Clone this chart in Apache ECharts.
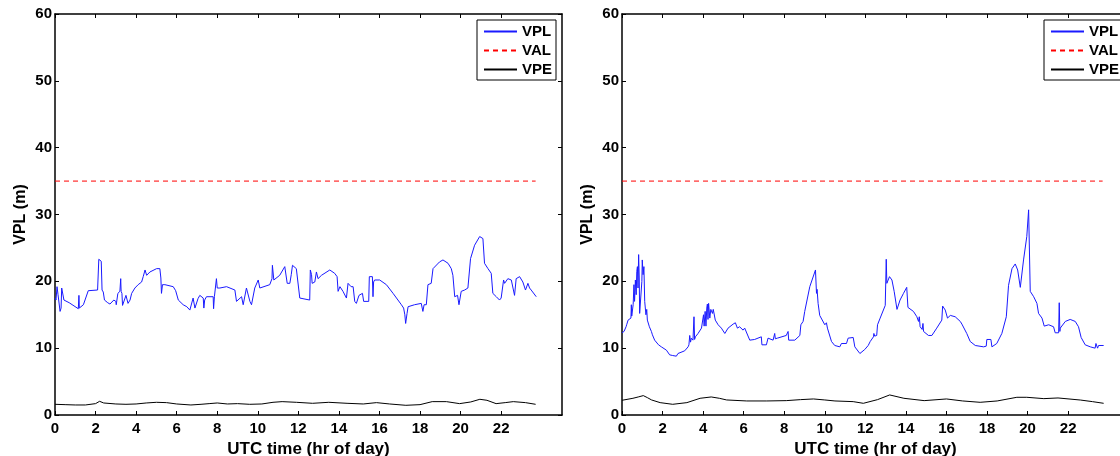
<!DOCTYPE html>
<html>
<head>
<meta charset="utf-8">
<script src="https://cdn.jsdelivr.net/npm/echarts@6/dist/echarts.min.js"></script>
<style>
html,body{margin:0;padding:0;background:#fff;}
#chart{width:1120px;height:456px;}
</style>
</head>
<body>
<div id="chart"></div>
<script>
// x tick labels (hours) and y ticks
var xTicks = [0, 2, 4, 6, 8, 10, 12, 14, 16, 18, 20, 22];
var valLevel = 35;
var valSpan = [0, 23.7];

// Left panel: VPL [hour, metres]
var vplLeft = [[0.0,17.5],[0.05,17.2],[0.1,19.2],[0.15,18.0],[0.25,15.5],[0.3,16.0],[0.33,19.0],[0.38,18.8],[0.44,17.2],[0.7,16.8],[1.15,15.9],[1.18,17.9],[1.2,16.0],[1.4,16.5],[1.64,18.6],[2.1,18.7],[2.13,18.5],[2.16,23.3],[2.28,23.0],[2.32,18.7],[2.38,18.4],[2.44,17.2],[2.6,16.8],[2.71,16.6],[2.9,17.2],[3.0,17.0],[3.02,16.5],[3.1,18.2],[3.2,18.5],[3.24,20.4],[3.26,18.5],[3.3,18.2],[3.33,16.4],[3.42,16.5],[3.5,17.9],[3.6,16.7],[3.7,17.2],[3.78,18.2],[3.94,19.0],[4.1,19.5],[4.27,19.9],[4.35,20.7],[4.42,20.7],[4.44,21.7],[4.52,20.9],[4.68,21.4],[5.01,21.9],[5.1,21.7],[5.17,21.9],[5.22,20.5],[5.25,18.2],[5.3,19.5],[5.42,19.5],[5.83,19.2],[5.95,18.6],[6.0,18.5],[6.08,17.2],[6.32,16.5],[6.4,16.7],[6.5,16.2],[6.65,15.7],[6.7,15.5],[6.81,17.5],[6.9,16.0],[7.05,17.4],[7.14,17.9],[7.31,17.5],[7.34,16.0],[7.38,17.2],[7.47,17.7],[7.8,17.7],[7.82,15.9],[7.86,17.7],[7.96,20.4],[8.0,19.0],[8.13,19.0],[8.46,19.2],[8.87,18.7],[8.95,17.0],[9.2,17.7],[9.28,16.5],[9.44,19.0],[9.61,17.0],[9.69,16.5],[9.85,19.0],[10.02,20.2],[10.1,19.0],[10.59,19.5],[10.7,20.4],[10.72,22.4],[10.79,20.2],[11.08,20.9],[11.33,22.2],[11.45,19.7],[11.58,19.7],[11.65,21.0],[11.71,22.4],[11.9,21.9],[11.99,21.7],[12.07,17.5],[12.12,17.5],[12.56,17.2],[12.59,21.7],[12.65,21.0],[12.68,19.7],[12.81,19.9],[12.89,21.4],[12.97,20.4],[13.14,20.9],[13.55,21.7],[13.79,21.2],[13.91,20.7],[13.96,18.5],[14.05,19.2],[14.12,19.2],[14.2,18.5],[14.37,17.5],[14.45,19.7],[14.53,19.7],[14.6,19.2],[14.7,19.2],[14.78,17.0],[14.86,16.7],[14.99,17.9],[15.16,18.2],[15.22,17.0],[15.47,17.0],[15.5,20.7],[15.65,20.7],[15.68,17.7],[15.71,19.9],[15.76,20.2],[16.01,20.2],[16.34,19.5],[16.67,18.2],[17.08,16.5],[17.19,16.0],[17.25,15.0],[17.29,13.7],[17.36,15.2],[17.41,16.2],[17.73,16.5],[18.06,16.7],[18.14,15.5],[18.2,16.5],[18.31,16.5],[18.39,19.5],[18.55,19.7],[18.64,21.9],[18.96,22.9],[19.13,23.2],[19.38,22.7],[19.54,21.9],[19.62,20.9],[19.71,17.7],[19.79,17.5],[19.85,17.9],[19.92,16.5],[20.03,18.5],[20.2,18.7],[20.36,19.0],[20.41,19.0],[20.49,23.4],[20.69,25.4],[20.94,26.7],[21.1,26.4],[21.18,22.7],[21.35,21.9],[21.51,21.2],[21.59,18.2],[21.76,17.7],[21.92,17.2],[22.0,17.5],[22.12,20.2],[22.17,19.7],[22.33,20.4],[22.5,20.2],[22.66,17.9],[22.74,20.4],[22.91,20.7],[23.07,19.9],[23.2,18.7],[23.32,19.7],[23.4,19.0],[23.48,18.7],[23.53,18.5],[23.73,17.7]];

// Left panel: VPE
var vpeLeft = [[0,1.6],[0.5,1.55],[1,1.5],[1.5,1.5],[2,1.7],[2.2,2.05],[2.4,1.8],[3,1.65],[3.5,1.6],[4,1.65],[4.5,1.8],[5,1.9],[5.5,1.85],[6,1.65],[6.7,1.5],[7.2,1.6],[7.6,1.7],[8,1.8],[8.5,1.65],[9,1.7],[9.6,1.6],[10.2,1.65],[10.75,1.9],[11.2,2.0],[11.9,1.9],[12.7,1.75],[13.5,1.9],[14.4,1.75],[15.2,1.65],[15.85,1.85],[16.5,1.65],[17.3,1.45],[18.0,1.55],[18.6,2.0],[19.3,2.0],[19.95,1.7],[20.5,1.95],[20.95,2.35],[21.3,2.2],[21.75,1.7],[22.2,1.85],[22.6,2.0],[23.2,1.85],[23.7,1.6]];

// Right panel: VPL
var vplRight = [[0.0,12.3],[0.1,12.5],[0.2,13.2],[0.23,13.5],[0.3,14.2],[0.38,14.0],[0.44,14.5],[0.46,16.5],[0.48,14.8],[0.55,16.5],[0.59,19.5],[0.62,17.0],[0.66,20.2],[0.7,18.0],[0.73,21.5],[0.76,22.2],[0.79,19.0],[0.82,24.0],[0.85,20.5],[0.87,15.2],[0.95,15.2],[0.98,20.0],[1.0,23.2],[1.04,21.0],[1.08,22.2],[1.12,17.0],[1.15,17.2],[1.18,15.0],[1.22,15.8],[1.25,14.2],[1.28,14.2],[1.35,13.2],[1.45,12.5],[1.5,12.0],[1.61,11.2],[1.7,11.0],[1.8,10.5],[1.94,10.2],[2.19,9.7],[2.35,9.0],[2.5,8.9],[2.68,8.8],[2.76,9.2],[3.09,9.6],[3.26,10.2],[3.3,10.5],[3.34,11.9],[3.38,10.9],[3.42,11.5],[3.5,11.2],[3.55,14.7],[3.58,11.3],[3.62,11.7],[3.75,12.2],[3.92,13.0],[3.98,13.0],[4.02,15.0],[4.05,13.3],[4.1,15.5],[4.14,13.3],[4.18,16.0],[4.21,16.6],[4.24,14.3],[4.27,16.7],[4.33,14.5],[4.38,15.8],[4.41,15.7],[4.46,15.2],[4.5,15.8],[4.54,15.7],[4.6,14.2],[4.74,13.5],[4.9,13.0],[5.07,12.2],[5.23,13.0],[5.48,13.6],[5.59,13.8],[5.65,13.6],[5.69,13.0],[5.75,13.2],[5.8,13.2],[5.97,12.7],[6.05,13.0],[6.3,11.2],[6.54,11.3],[6.87,11.7],[6.9,10.5],[7.12,10.5],[7.2,11.5],[7.45,11.2],[7.5,11.2],[7.53,12.2],[7.56,11.4],[7.66,11.5],[8.1,11.9],[8.19,12.5],[8.22,11.2],[8.52,11.2],[8.77,11.9],[8.82,13.5],[8.93,14.0],[9.01,15.5],[9.26,19.2],[9.54,21.7],[9.59,18.2],[9.62,18.8],[9.67,16.7],[9.75,14.9],[10.0,13.5],[10.05,13.3],[10.08,13.8],[10.13,13.0],[10.33,11.0],[10.49,10.4],[10.74,10.2],[10.82,10.7],[11.07,10.7],[11.15,11.5],[11.4,11.6],[11.48,10.2],[11.73,9.2],[11.97,9.8],[12.14,10.4],[12.24,11.0],[12.4,11.7],[12.42,12.2],[12.46,11.8],[12.56,11.9],[12.6,13.5],[12.73,14.5],[12.98,16.4],[13.01,16.5],[13.03,23.3],[13.06,19.7],[13.19,20.7],[13.31,20.2],[13.42,18.5],[13.56,15.8],[13.71,17.2],[13.88,18.2],[14.04,19.1],[14.1,16.1],[14.37,15.5],[14.54,14.7],[14.62,14.0],[14.66,14.7],[14.7,13.2],[14.8,12.8],[14.84,13.7],[14.87,12.5],[15.11,11.9],[15.28,11.9],[15.52,13.0],[15.77,14.2],[15.81,16.3],[15.94,15.7],[16.05,14.5],[16.19,14.9],[16.43,14.7],[16.68,14.0],[16.76,13.6],[17.0,12.2],[17.17,11.0],[17.42,10.4],[17.83,10.2],[17.96,10.3],[17.99,11.3],[18.19,11.3],[18.24,10.2],[18.48,10.7],[18.73,12.2],[18.95,14.7],[19.06,19.4],[19.23,21.9],[19.39,22.6],[19.51,21.7],[19.64,19.1],[19.8,23.2],[19.96,26.7],[20.05,30.7],[20.08,30.7],[20.13,18.5],[20.3,17.7],[20.46,16.7],[20.54,15.2],[20.71,14.5],[20.82,13.3],[21.04,13.5],[21.28,13.2],[21.36,12.3],[21.53,12.3],[21.56,16.8],[21.59,12.5],[21.61,13.0],[21.86,14.0],[22.1,14.3],[22.35,14.0],[22.51,13.2],[22.64,11.6],[22.84,10.5],[23.09,10.2],[23.33,10.0],[23.37,10.7],[23.45,10.0],[23.5,10.4],[23.75,10.4]];

// Right panel: VPE
var vpeRight = [[0,2.2],[0.54,2.5],[0.8,2.7],[1.05,2.9],[1.25,2.6],[1.46,2.25],[1.88,1.85],[2.5,1.6],[3.2,1.85],[3.85,2.5],[4.4,2.7],[4.8,2.5],[5.16,2.25],[6.15,2.1],[7.14,2.1],[8.1,2.15],[8.8,2.3],[9.44,2.4],[10.0,2.25],[10.5,2.1],[11.4,2.0],[11.9,1.75],[12.6,2.3],[13.2,3.0],[13.9,2.5],[14.9,2.15],[16.0,2.4],[16.8,2.1],[17.66,1.9],[18.5,2.1],[19.47,2.65],[19.96,2.65],[20.8,2.45],[21.5,2.55],[22.6,2.24],[23.2,2.0],[23.75,1.75]];

var FONT = "'Liberation Sans', Arial, Helvetica, sans-serif";
var valLine = [[valSpan[0], valLevel], [valSpan[1], valLevel]];

function xBottom(g) {
  return {
    type: 'value', gridIndex: g, min: 0, max: 25, position: 'bottom',
    name: 'UTC time (hr of day)', nameLocation: 'middle', nameGap: 19,
    nameTextStyle: {color: '#000', fontWeight: 'bold', fontSize: 17, fontFamily: FONT},
    axisLine: {onZero: false, lineStyle: {color: '#000', width: 1.5}},
    axisTick: {inside: true, length: 4, customValues: xTicks, lineStyle: {color: '#000', width: 1}},
    axisLabel: {customValues: xTicks, color: '#000', fontWeight: 'bold', fontSize: 15, margin: 6, fontFamily: FONT},
    splitLine: {show: false}
  };
}
function xTop(g) {
  return {
    type: 'value', gridIndex: g, min: 0, max: 25, position: 'top',
    axisLine: {onZero: false, lineStyle: {color: '#000', width: 1.5}},
    axisTick: {inside: true, length: 4, customValues: xTicks, lineStyle: {color: '#000', width: 1}},
    axisLabel: {show: false},
    splitLine: {show: false}
  };
}
function yLeft(g) {
  return {
    type: 'value', gridIndex: g, min: 0, max: 60, interval: 10, position: 'left',
    name: 'VPL (m)', nameLocation: 'middle', nameGap: 26,
    nameTextStyle: {color: '#000', fontWeight: 'bold', fontSize: 16, fontFamily: FONT},
    axisLine: {show: true, onZero: false, lineStyle: {color: '#000', width: 1.5}},
    axisTick: {show: true, inside: true, length: 4, lineStyle: {color: '#000', width: 1}},
    axisLabel: {color: '#000', fontWeight: 'bold', fontSize: 15, margin: 3, fontFamily: FONT},
    splitLine: {show: false}
  };
}
function yRight(g) {
  return {
    type: 'value', gridIndex: g, min: 0, max: 60, interval: 10, position: 'right',
    axisLine: {show: true, onZero: false, lineStyle: {color: '#000', width: 1.5}},
    axisTick: {show: true, inside: true, length: 4, lineStyle: {color: '#000', width: 1}},
    axisLabel: {show: false},
    splitLine: {show: false}
  };
}
function lineSeries(name, data, xi, yi, color, type) {
  return {
    name: name, type: 'line', data: data, xAxisIndex: xi, yAxisIndex: yi,
    symbol: 'none', showSymbol: false, smooth: false,
    lineStyle: {color: color, width: 1, type: type || 'solid'},
    itemStyle: {color: color},
    emphasis: {disabled: true}
  };
}
function legendAt(left) {
  return {
    left: left, top: 20, orient: 'vertical',
    data: ['VPL', 'VAL', 'VPE'],
    itemWidth: 33, itemHeight: 12, itemGap: 4,
    padding: [4, 4, 3, 6],
    borderColor: '#000', borderWidth: 1, backgroundColor: '#fff',
    itemStyle: {opacity: 0, borderWidth: 0},
    textStyle: {color: '#000', fontWeight: 'bold', fontSize: 15, fontFamily: FONT},
    selectedMode: false
  };
}

var chart = echarts.init(document.getElementById('chart'), null, {renderer: 'canvas'});
chart.setOption({
  animation: false,
  backgroundColor: '#fff',
  textStyle: {fontFamily: FONT},
  grid: [
    {left: 55, top: 14, width: 507, height: 401, outerBoundsMode: 'none', containLabel: false},
    {left: 622, top: 14, width: 507, height: 401, outerBoundsMode: 'none', containLabel: false}
  ],
  xAxis: [xBottom(0), xBottom(1), xTop(0), xTop(1)],
  yAxis: [yLeft(0), yLeft(1), yRight(0), yRight(1)],
  legend: [legendAt(477), legendAt(1044)],
  series: [
    lineSeries('VPL', vplLeft, 0, 0, '#1a1aff'),
    lineSeries('VAL', valLine, 0, 0, '#ff0000', [5, 4]),
    lineSeries('VPE', vpeLeft, 0, 0, '#000000'),
    lineSeries('VPL', vplRight, 1, 1, '#1a1aff'),
    lineSeries('VAL', valLine, 1, 1, '#ff0000', [5, 4]),
    lineSeries('VPE', vpeRight, 1, 1, '#000000')
  ]
});
</script>
</body>
</html>
